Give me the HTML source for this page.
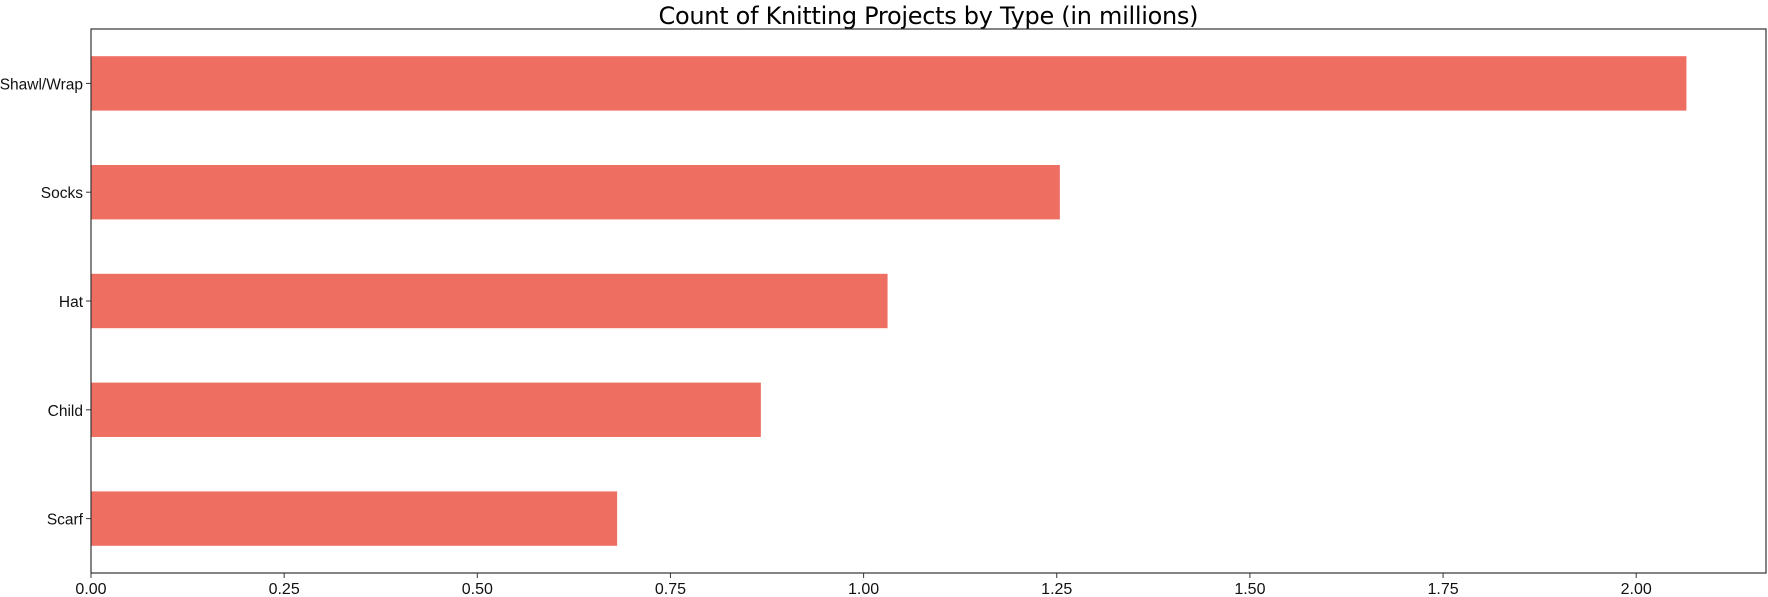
<!DOCTYPE html>
<html><head><meta charset="utf-8"><style>
html,body{margin:0;padding:0;background:#fff;}
svg{display:block;font-family:"Liberation Sans","DejaVu Sans",sans-serif;}
</style></head><body>
<svg id="chart" width="1768" height="597"></svg>
<script>
const categories = ["Shawl/Wrap","Socks","Hat","Child","Scarf"];
const values = [2.065, 1.254, 1.031, 0.867, 0.681];
const xTicks = [0, 0.25, 0.5, 0.75, 1.0, 1.25, 1.5, 1.75, 2.0];
const xTickLabels = ["0.00","0.25","0.50","0.75","1.00","1.25","1.50","1.75","2.00"];
const xMax = 2.168;

const NS = "http://www.w3.org/2000/svg";
const svg = document.getElementById("chart");
const L = 91, R = 1766, T = 29, B = 573;
const x = v => L + (v / xMax) * (R - L);
const step = (B - T) / categories.length;
const yc = i => T + step * (i + 0.5);
function mk(tag, attrs, parent) {
  const e = document.createElementNS(NS, tag);
  for (const k in attrs) e.setAttribute(k, attrs[k]);
  (parent || svg).appendChild(e);
  return e;
}
const title = mk("text", {x: (L + R) / 2, y: 24, "text-anchor": "middle", "font-size": "24", fill: "#000", "font-family": "DejaVu Sans, sans-serif", textLength: 540});


title.textContent = "Count of Knitting Projects by Type (in millions)";

categories.forEach((c, i) => {
  const h = step * 0.5;
  const bar = mk("rect", {x: L, y: yc(i) - h / 2, width: x(values[i]) - L, height: h, fill: "#ee6e62"});
  
  
  mk("line", {x1: L - 5, x2: L, y1: yc(i), y2: yc(i), stroke: "#333", "stroke-width": 1});
  const lab = mk("text", {x: L - 8, y: yc(i) + 6, "text-anchor": "end", "font-size": "15.5", fill: "#111"});
  
  
  lab.textContent = c;
});

xTicks.forEach((t, i) => {
  mk("line", {x1: x(t), x2: x(t), y1: B, y2: B + 5, stroke: "#333", "stroke-width": 1});
  const lab = mk("text", {x: x(t), y: B + 21, "text-anchor": "middle", "font-size": "16", fill: "#111"});
  
  
  lab.textContent = xTickLabels[i];
});

const frame = mk("rect", {x: L, y: T, width: R - L, height: B - T, fill: "none", stroke: "#333", "stroke-width": 1.2});


</script>
</body></html>
